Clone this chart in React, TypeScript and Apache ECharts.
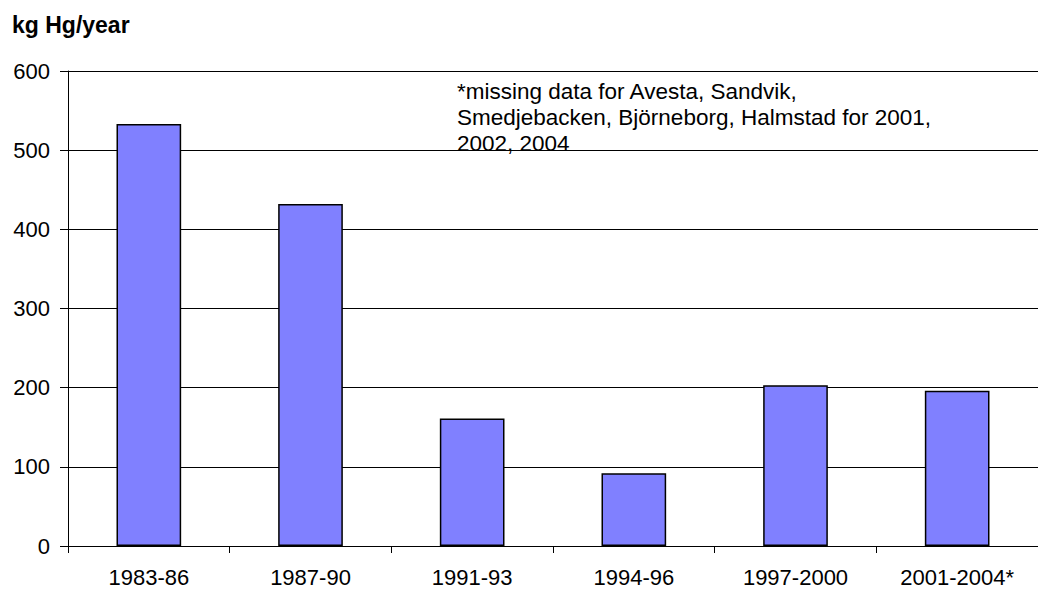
import React, { useEffect, useRef } from "react";
import * as echarts from "echarts";

const categories = ["1983-86", "1987-90", "1991-93", "1994-96", "1997-2000", "2001-2004*"];
const values = [533, 432, 161, 92, 203, 196];
const yTicks = { min: 0, max: 600, interval: 100 };
const unitLabel = "kg Hg/year";
const noteLines = [
  "*missing data for Avesta, Sandvik,",
  "Smedjebacken, Björneborg, Halmstad for 2001,",
  "2002, 2004",
];

const FONT = "'Liberation Sans', Arial, sans-serif";

export default function App() {
  const ref = useRef<HTMLDivElement>(null);
  useEffect(() => {
    if (!ref.current) return;
    const chart = echarts.init(ref.current, undefined, { renderer: "svg" });
    chart.setOption({
      animation: false,
      backgroundColor: "#ffffff",
      textStyle: { fontFamily: FONT },
      grid: { left: 68, top: 71, bottom: 44, right: -11, containLabel: false },
      xAxis: {
        type: "category",
        data: categories,
        boundaryGap: true,
        axisLine: { lineStyle: { color: "#000", width: 1 } },
        axisTick: { show: true, length: 7, inside: false, lineStyle: { color: "#000" } },
        axisLabel: { color: "#000", fontSize: 22, fontFamily: FONT, margin: 20, interval: 0 },
        splitLine: { show: false },
      },
      yAxis: {
        type: "value",
        min: yTicks.min,
        max: yTicks.max,
        interval: yTicks.interval,
        axisLine: { show: true, lineStyle: { color: "#000", width: 1 } },
        axisTick: { show: true, length: 8, inside: false, lineStyle: { color: "#000" } },
        axisLabel: { color: "#000", fontSize: 22, fontFamily: FONT, margin: 18 },
        splitLine: { show: true, lineStyle: { color: "#000", width: 1 } },
      },
      series: [
        {
          type: "bar",
          data: values,
          barWidth: "40%",
          itemStyle: { color: "#8080FF", borderColor: "#000", borderWidth: 1.5 },
        },
      ],
      graphic: [
        {
          type: "text",
          left: 12,
          top: 13,
          style: { text: unitLabel, font: `bold 23px ${FONT}`, fill: "#000" },
        },
        {
          type: "text",
          left: 457,
          top: 78,
          style: {
            text: noteLines.join("\n"),
            font: `22.5px ${FONT}`,
            lineHeight: 26,
            fill: "#000",
          },
        },
      ],
    });
    return () => chart.dispose();
  }, []);
  return (
    <div style={{ position: "fixed", left: 0, top: 0, width: 1038, height: 590, overflow: "hidden", background: "#fff" }}>
      <div ref={ref} style={{ width: 1038, height: 590 }} />
    </div>
  );
}
